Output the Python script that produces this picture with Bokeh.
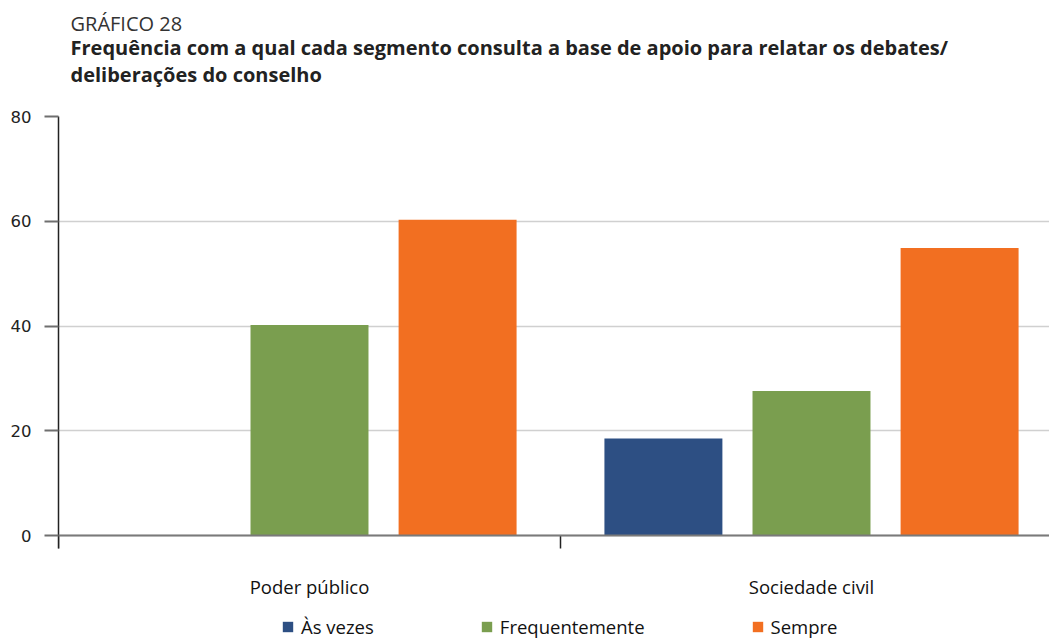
from bokeh.plotting import figure
from bokeh.models import (Range1d, LinearAxis, FixedTicker, Grid, Title, Legend,
                          LegendItem, ColumnDataSource, Span)
from bokeh.core.properties import value
from bokeh.embed import file_html
from bokeh.resources import INLINE

# ---- data ----
categories = ["Poder público", "Sociedade civil"]
series_names = ["Às vezes", "Frequentemente", "Sempre"]
as_vezes = [0.0, 18.5]
frequentemente = [40.2, 27.6]
sempre = [60.3, 54.9]
y_ticks = [0, 20, 40, 60, 80]
chart_label = "GRÁFICO 28"
title_lines = ["Frequência com a qual cada segmento consulta a base de apoio para relatar os debates/",
               "deliberações do conselho"]

# ---- styles / layout ----
colors = ["#2D4F83", "#7A9E4F", "#F26F21"]
offsets = [-0.295, 0.0, 0.295]
bar_width = 0.235
px_per_unit = 419 / 80          # vertical pixels per data unit
x_end = 991 / 502               # visible part of the category axis
y_start = -105 / px_per_unit    # room below zero for labels and legend
tick_len = 13 / px_per_unit
label_y = -51 / px_per_unit

p = figure(width=1049, height=640, x_range=Range1d(0, x_end), y_range=Range1d(y_start, 80),
           output_backend="svg", toolbar_location=None,
           x_axis_type=None, y_axis_type=None,
           min_border_left=58, min_border_right=0, min_border_top=116, min_border_bottom=0)
p.outline_line_color = None
p.background_fill_color = "white"
p.border_fill_color = "white"

# y axis
yaxis = LinearAxis(ticker=FixedTicker(ticks=y_ticks, minor_ticks=[]), bounds=(-tick_len, 80))
yaxis.axis_line_color = "#222222"
yaxis.axis_line_width = 1.5
yaxis.major_tick_out = 14
yaxis.major_tick_in = 0
yaxis.major_tick_line_color = "#6f6f6f"
yaxis.major_tick_line_width = 2
yaxis.minor_tick_line_color = None
yaxis.major_label_standoff = 13
yaxis.major_label_text_font = "DejaVu Sans"
yaxis.major_label_text_font_size = "16.5px"
yaxis.major_label_text_color = "#222222"
p.add_layout(yaxis, "left")

p.add_layout(Grid(dimension=1, ticker=yaxis.ticker, grid_line_color="#d0d0d0",
                  grid_line_width=1.5))

# bars
items = []
for j, (name, vals) in enumerate(zip(series_names, [as_vezes, frequentemente, sempre])):
    xs = [i + 0.5 + offsets[j] for i in range(len(categories))]
    src = ColumnDataSource(dict(x=xs, top=vals))
    r = p.vbar(x="x", top="top", bottom=0, width=bar_width, source=src,
               fill_color=colors[j], line_color=None)
    items.append(LegendItem(label=name, renderers=[r]))

# category axis (drawn at zero)
p.add_layout(Span(location=0, dimension="width", line_color="#7a7a7a", line_width=2))
bounds_x = [float(i) for i in range(len(categories))]
p.segment(x0=bounds_x, y0=[0] * len(bounds_x), x1=bounds_x, y1=[-tick_len] * len(bounds_x),
          line_color="#222222", line_width=1.5)
p.text(x=[i + 0.5 for i in range(len(categories))], y=[label_y] * len(categories),
       text=categories, text_align="center", text_baseline="middle",
       text_font=value("Open Sans"), text_font_size=value("18.5px"), text_color="#111111")

legend = Legend(items=items, orientation="horizontal", location=(223, 1),
                spacing=106, glyph_width=13, glyph_height=13, label_standoff=7,
                label_text_font="Open Sans", label_text_font_size="18.5px",
                label_text_color="#111111", border_line_color=None,
                background_fill_alpha=0, padding=0, margin=0)
p.add_layout(legend, "center")

# titles (first added is closest to the plot)
spacer = Title(text=" ", text_font_size="1px", standoff=26)
t_line2 = Title(text=title_lines[1], text_font="Open Sans", text_font_style="bold",
                text_font_size="20px", text_color="#222222", align="left", offset=12, standoff=0)
t_line1 = Title(text=title_lines[0], text_font="Open Sans", text_font_style="bold",
                text_font_size="20px", text_color="#222222", align="left", offset=12, standoff=-4)
t_label = Title(text=chart_label, text_font="Open Sans", text_font_style="normal",
                text_font_size="20px", text_color="#333333", align="left", offset=12, standoff=-6)
for t in (spacer, t_line2, t_line1, t_label):
    p.add_layout(t, "above")

open("out.html", "w").write(file_html(p, INLINE))
